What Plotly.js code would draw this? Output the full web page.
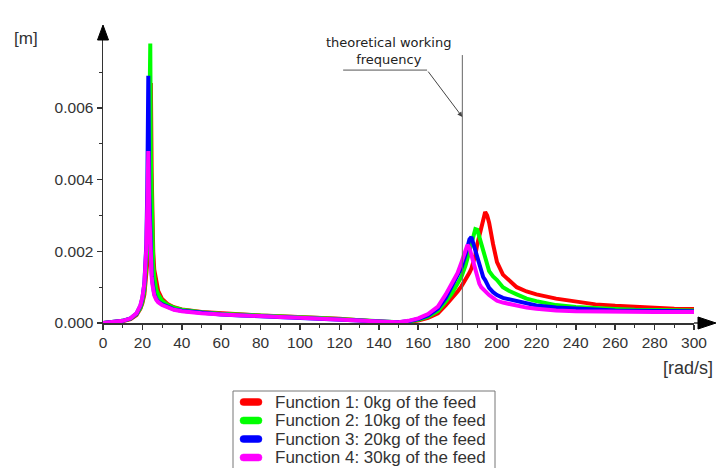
<!DOCTYPE html>
<html>
<head>
<meta charset="utf-8">
<script src="https://cdn.plot.ly/plotly-3.0.1.min.js"></script>
<style>
  html, body { margin: 0; padding: 0; background: #ffffff; }
  #chart { width: 718px; height: 468px; }
</style>
</head>
<body>
<div id="chart"></div>
<script>
// ---- data ----
const omega = [0,5,10,14,17,19,20,21,22,22.5,23,23.5,24,24.3,24.7,25,25.5,26,27,28,30,33,36,40,50,60,70,80,90,100,110,120,130,140,145,150,155,160,165,170,174,177,180,182,184,185,186,187,188,189,190,191,192,193,194,195,196,198,200,203,206,210,215,220,230,240,250,260,270,280,290,300];

const f1_0kg = [0,0.00002,0.00005,0.00011,0.00022,0.0004,
  0.00055,0.0008,0.0013,0.0017,0.0025,0.0037,0.0058,0.0067,0.0042,0.003,
  0.002,0.0015,0.0011,0.0009,0.00067,0.00052,0.00044,0.00038,
  0.00031,0.00027,0.00024,0.00021,0.00019,0.00017,0.00015,0.00012,0.00008,0.00004,
  0.00002,0.00001,0.00003,0.00007,0.00014,0.00027,0.0005,0.00068,0.00088,0.00103,
  0.0012,0.0013,0.0014,0.00152,0.0017,0.0019,0.0022,0.00245,0.0027,0.0029,
  0.0031,0.003,0.0028,0.0022,0.0017,0.00135,0.0012,0.001,0.00088,0.0008,
  0.00068,0.0006,0.00052,0.00048,0.00045,0.00042,0.0004,0.00039];

const f2_10kg = [0,0.00002,0.00006,0.00012,0.00024,0.00042,
  0.0006,0.0009,0.0015,0.0021,0.0033,0.0052,0.0078,0.0046,0.0029,0.0022,
  0.0016,0.0013,0.00095,0.0008,0.00062,0.0005,0.00043,0.00037,
  0.0003,0.00026,0.00023,0.0002,0.00018,0.00016,0.00014,0.00011,0.00008,0.00004,
  0.00002,0.00002,0.00004,0.00009,0.00018,0.00034,0.0006,0.00082,0.0011,0.0013,
  0.0016,0.0018,0.002,0.0022,0.00245,0.00262,0.0026,0.0024,0.00222,0.002,
  0.00178,0.0016,0.00145,0.0013,0.0012,0.001,0.0009,0.0008,0.00068,0.00061,
  0.0005,0.00045,0.00041,0.00039,0.00037,0.00036,0.00035,0.00035];

const f3_20kg = [0,0.00002,0.00006,0.00013,0.00026,0.00048,
  0.0007,0.0011,0.0022,0.0038,0.0069,0.0036,0.0021,0.0017,0.0014,0.0012,
  0.00095,0.00082,0.00068,0.0006,0.00052,0.00044,0.00038,0.00034,
  0.00028,0.00024,0.00021,0.00019,0.00017,0.00015,0.00013,0.0001,0.00007,0.00004,
  0.00002,0.00002,0.00005,0.00011,0.00021,0.0004,0.0007,0.001,0.0013,0.00155,
  0.0019,0.00213,0.00233,0.0024,0.0022,0.002,0.0018,0.0016,0.0014,0.00128,
  0.0012,0.00108,0.00098,0.00086,0.00078,0.0007,0.00066,0.0006,0.00053,0.00049,
  0.00043,0.0004,0.00037,0.00035,0.00034,0.00034,0.00033,0.00033];

const f4_30kg = [0,0.00002,0.00006,0.00013,0.00027,0.0005,
  0.00072,0.0011,0.0021,0.0033,0.0048,0.0031,0.0019,0.0016,0.0013,0.0011,
  0.00088,0.00078,0.00065,0.00058,0.0005,0.00042,0.00037,0.00033,
  0.00027,0.00024,0.00021,0.00019,0.00017,0.00015,0.00013,0.0001,0.00007,0.00004,
  0.00002,0.00002,0.00006,0.00013,0.00025,0.00046,0.0008,0.0011,0.0014,0.0017,
  0.00205,0.00218,0.0021,0.0019,0.00165,0.0014,0.0012,0.0011,0.001,0.00094,
  0.00088,0.00083,0.00078,0.0007,0.00062,0.00057,0.00053,0.00048,0.00043,0.0004,
  0.00035,0.00033,0.00032,0.00032,0.00031,0.00031,0.00031,0.00031];

const seriesNames = ["Function 1: 0kg of the feed","Function 2: 10kg of the feed","Function 3: 20kg of the feed","Function 4: 30kg of the feed"];
const seriesColors = ["#ff0000","#00ff00","#0000ff","#ff00ff"];
const seriesValues = [f1_0kg, f2_10kg, f3_20kg, f4_30kg];

const xTickVals = [0,20,40,60,80,100,120,140,160,180,200,220,240,260,280,300];
const xMinorVals = [10,30,50,70,90,110,130,150,170,190,210,230,250,270,290];
const yTickVals = [0,0.002,0.004,0.006];
const yMinorVals = [0.001,0.003,0.005,0.007];
const workingFrequency = 182.4;

// ---- traces ----
const traces = seriesValues.map((vals, i) => ({
  x: omega, y: vals, type: 'scatter', mode: 'lines',
  name: seriesNames[i],
  line: {color: seriesColors[i], width: 4},
  showlegend: false, hoverinfo: 'skip'
}));

const axisColor = '#333333';
const tickFont = {family: 'Liberation Sans, Arial, sans-serif', size: 15.5, color: '#333333'};

// plot-area geometry (pixels) used to place the hand-built legend box
const M = {l: 103, r: 24, t: 40, b: 145};
const PW = 718 - M.l - M.r, PH = 468 - M.t - M.b;
const px2paperX = p => (p - M.l) / PW;
const py2paperY = p => (468 - M.b - p) / PH;

const shapes = [
  // working-frequency vertical line
  {type: 'line', xref: 'x', yref: 'y', x0: workingFrequency, x1: workingFrequency, y0: 0, y1: 0.00748,
   line: {color: '#666666', width: 1}},
  // underline of the annotation
  {type: 'line', xref: 'x', yref: 'y', x0: 121.9, x1: 164.5, y0: 0.00706, y1: 0.00706,
   line: {color: '#555555', width: 1}},
  // x-axis arrow
  {type: 'path', xref: 'paper', yref: 'paper', xsizemode: 'pixel', ysizemode: 'pixel', xanchor: 1, yanchor: 0,
   path: 'M 0 0 L 5 0', line: {color: axisColor, width: 1.5}},
  {type: 'path', xref: 'paper', yref: 'paper', xsizemode: 'pixel', ysizemode: 'pixel', xanchor: 1, yanchor: 0,
   path: 'M 4 -6 L 22 0 L 4 6 Z', fillcolor: '#000000', line: {color: '#000000', width: 1}},
  // y-axis arrow
  {type: 'path', xref: 'paper', yref: 'paper', xsizemode: 'pixel', ysizemode: 'pixel', xanchor: 0, yanchor: 1,
   path: 'M -5.5 0 L 0 15 L 5.5 0 Z', fillcolor: '#000000', line: {color: '#000000', width: 1}},
  // legend frame
  {type: 'rect', xref: 'paper', yref: 'paper', x0: px2paperX(233), x1: px2paperX(495), y0: py2paperY(391), y1: py2paperY(490),
   line: {color: '#777777', width: 1}, fillcolor: 'rgba(0,0,0,0)'}
];

const annotations = [
  {xref: 'paper', yref: 'paper', x: -0.130, y: 1.007, xanchor: 'center', yanchor: 'middle',
   text: '[m]', showarrow: false,
   font: {family: 'Liberation Sans, Arial, sans-serif', size: 17, color: '#333333'}},
  {xref: 'paper', yref: 'paper', x: 1.0355, y: -0.159, xanchor: 'right', yanchor: 'middle',
   text: '[rad/s]', showarrow: false,
   font: {family: 'Liberation Sans, Arial, sans-serif', size: 18, color: '#333333'}},
  {xref: 'x', yref: 'y', x: 144.7, y: 0.00709, xanchor: 'center', yanchor: 'bottom',
   text: 'theoretical working<br>frequency', showarrow: false,
   font: {family: 'DejaVu Sans, Verdana, sans-serif', size: 13, color: '#222222'}},
  {xref: 'x', yref: 'y', x: workingFrequency, y: 0.00575, axref: 'x', ayref: 'y', ax: 164.5, ay: 0.00706,
   text: '', showarrow: true, arrowhead: 2, arrowsize: 1, arrowwidth: 1, arrowcolor: '#444444'}
];

// hand-built legend (rows: swatch + label), from the series names/colours
seriesNames.forEach((name, i) => {
  const rowY = 402 + i * 18.5;
  shapes.push({
    type: 'path', xref: 'paper', yref: 'paper', xsizemode: 'pixel', ysizemode: 'pixel',
    xanchor: px2paperX(240), yanchor: py2paperY(rowY),
    path: 'M 3.5 -3.5 L 18.5 -3.5 Q 22 -3.5 22 0 Q 22 3.5 18.5 3.5 L 3.5 3.5 Q 0 3.5 0 0 Q 0 -3.5 3.5 -3.5 Z',
    fillcolor: seriesColors[i], line: {color: seriesColors[i], width: 0.5}
  });
  annotations.push({
    xref: 'paper', yref: 'paper', x: px2paperX(274), y: py2paperY(rowY),
    xanchor: 'left', yanchor: 'middle', showarrow: false, text: name,
    borderpad: 0,
    font: {family: 'Liberation Sans, Arial, sans-serif', size: 17, color: '#333333'}
  });
});

const layout = {
  width: 718, height: 468,
  margin: {l: M.l, r: M.r, t: M.t, b: M.b, pad: 0, autoexpand: false},
  paper_bgcolor: '#ffffff', plot_bgcolor: '#ffffff',
  showlegend: false,
  xaxis: {
    range: [0, 300], showgrid: false, zeroline: false,
    showline: true, linecolor: axisColor, linewidth: 1.5,
    tickmode: 'array', tickvals: xTickVals, ticktext: xTickVals.map(String),
    ticks: 'outside', ticklen: 5, tickwidth: 1.5, tickcolor: axisColor,
    tickfont: tickFont,
    minor: {tickmode: 'array', tickvals: xMinorVals, ticks: 'outside', ticklen: 3, tickwidth: 1, tickcolor: axisColor, showgrid: false},
    fixedrange: true
  },
  xaxis2: {
    overlaying: 'x', anchor: 'y', side: 'bottom', matches: 'x',
    range: [0, 300], showgrid: false, zeroline: false, showline: false,
    showticklabels: false,
    tickmode: 'array', tickvals: xTickVals,
    ticks: 'inside', ticklen: 5, tickwidth: 1.5, tickcolor: axisColor,
    minor: {tickmode: 'array', tickvals: xMinorVals, ticks: 'inside', ticklen: 3, tickwidth: 1, tickcolor: axisColor, showgrid: false}
  },
  yaxis: {
    range: [0, 0.0079], showgrid: false, zeroline: false,
    showline: true, linecolor: axisColor, linewidth: 1.5,
    tickmode: 'array', tickvals: yTickVals, tickformat: '.3f',
    ticks: 'outside', ticklen: 5, tickwidth: 1.5, tickcolor: axisColor,
    tickfont: tickFont,
    minor: {tickmode: 'array', tickvals: yMinorVals, ticks: 'outside', ticklen: 3, tickwidth: 1, tickcolor: axisColor, showgrid: false},
    fixedrange: true
  },
  yaxis2: {
    overlaying: 'y', anchor: 'x', side: 'left', matches: 'y',
    range: [0, 0.0079], showgrid: false, zeroline: false, showline: false,
    showticklabels: false,
    tickmode: 'array', tickvals: yTickVals,
    ticks: 'inside', ticklen: 5, tickwidth: 1.5, tickcolor: axisColor,
    minor: {tickmode: 'array', tickvals: yMinorVals, ticks: 'inside', ticklen: 3, tickwidth: 1, tickcolor: axisColor, showgrid: false}
  },
  shapes: shapes,
  annotations: annotations
};

Plotly.newPlot('chart', traces, layout, {staticPlot: true, displayModeBar: false});
</script>
</body>
</html>
